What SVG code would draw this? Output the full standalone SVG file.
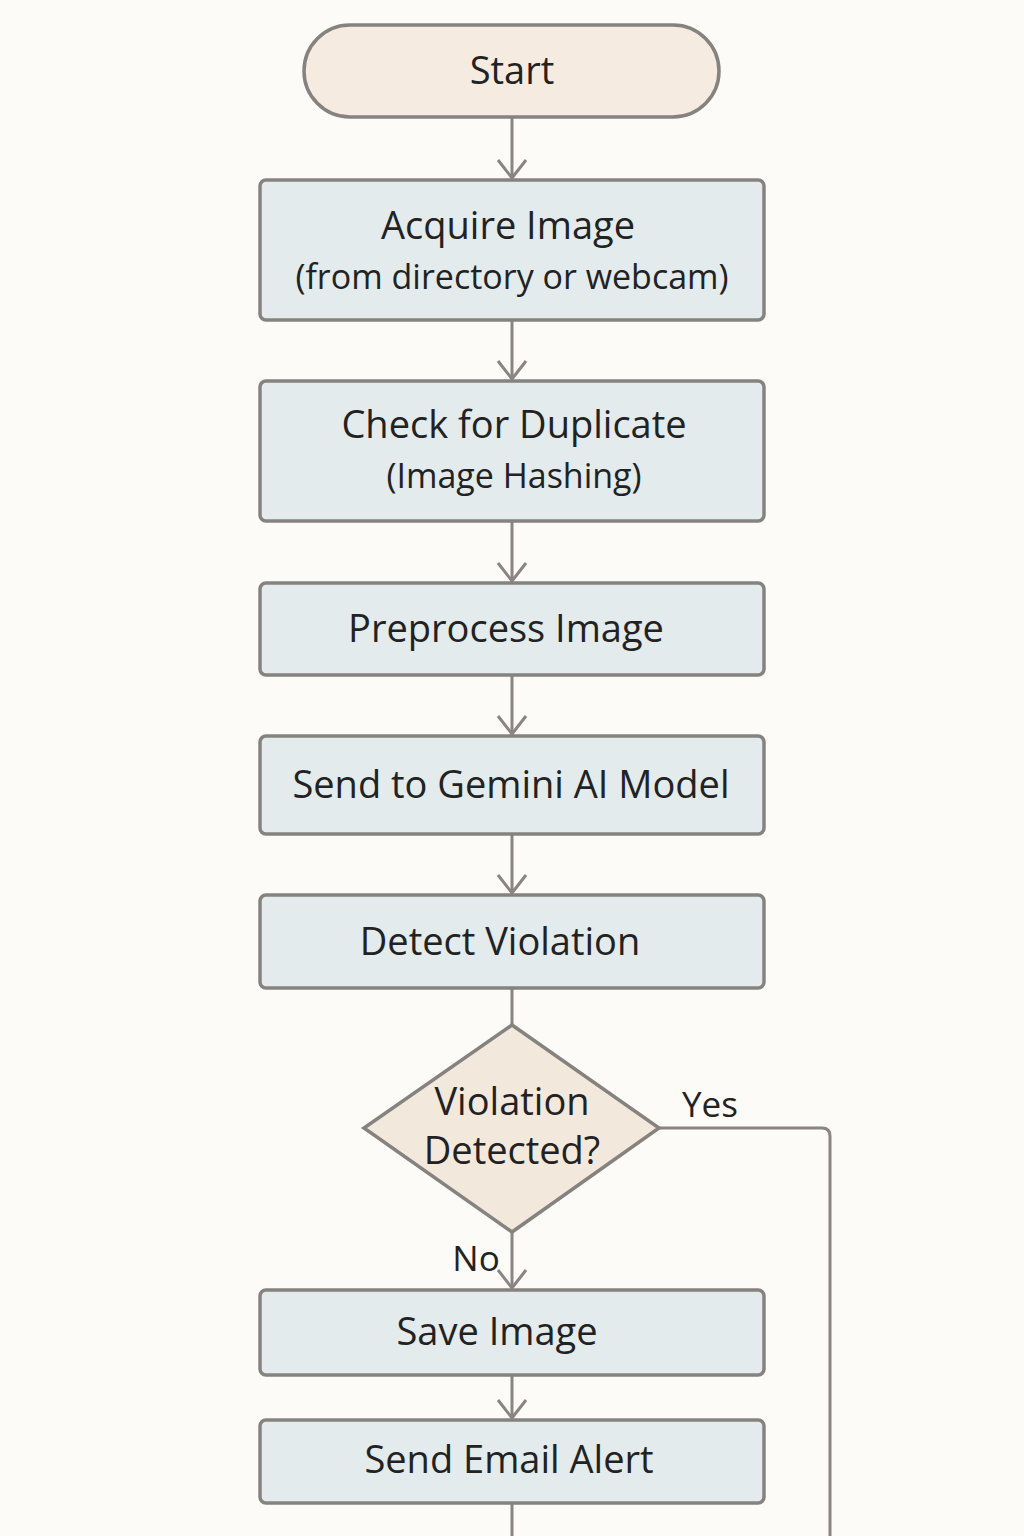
<svg xmlns="http://www.w3.org/2000/svg" width="1024" height="1536" viewBox="0 0 1024 1536">
<defs>
<style>
.bg{fill:#fcfbf7}
.box{fill:#e3ebed;stroke:#858280;stroke-width:3.5}
.term{fill:#f5ebe0;stroke:#858280;stroke-width:3.5}
.dec{fill:#f3e8dc;stroke:#858280;stroke-width:3.5}
.t{font-family:"Open Sans",Lato,"Liberation Sans",sans-serif;font-weight:500;fill:#222222;text-anchor:middle}
.big{font-size:38px}
.sm{font-size:34px}
.lbl{font-size:35px}
.conn{fill:none;stroke:#8a8582;stroke-width:3}
</style>
<marker id="arr" viewBox="0 0 22 32" refX="19" refY="16" markerWidth="22" markerHeight="32" markerUnits="userSpaceOnUse" orient="auto">
<path d="M1,2 L19,16 L1,30" fill="none" stroke="#8a8582" stroke-width="3"/>
</marker>
</defs>
<rect class="bg" x="0" y="0" width="1024" height="1536"/>
<g id="connectors">
<line class="conn" x1="512" y1="118" x2="512" y2="178" marker-end="url(#arr)"/>
<line class="conn" x1="512" y1="320" x2="512" y2="379" marker-end="url(#arr)"/>
<line class="conn" x1="512" y1="521" x2="512" y2="581" marker-end="url(#arr)"/>
<line class="conn" x1="512" y1="675" x2="512" y2="734" marker-end="url(#arr)"/>
<line class="conn" x1="512" y1="834" x2="512" y2="893" marker-end="url(#arr)"/>
<line class="conn" x1="512" y1="988" x2="512" y2="1025"/>
<line class="conn" x1="512" y1="1232" x2="512" y2="1288" marker-end="url(#arr)"/>
<path class="conn" d="M659,1128 L822,1128 Q830,1128 830,1136 L830,1536"/>
<line class="conn" x1="512" y1="1375" x2="512" y2="1418" marker-end="url(#arr)"/>
<line class="conn" x1="512" y1="1503" x2="512" y2="1536"/>
<text class="t lbl" x="710" y="1117">Yes</text>
<text class="t lbl" x="476" y="1271">No</text>
</g>
<g id="start">
<rect class="term" x="304" y="25" width="415" height="92" rx="46"/>
<text class="t big" x="512" y="84">Start</text>
</g>
<g id="acquire">
<rect class="box" x="260" y="180" width="504" height="140" rx="6"/>
<text class="t big" x="508" y="239">Acquire Image</text>
<text class="t sm" x="512" y="289">(from directory or webcam)</text>
</g>
<g id="duplicate">
<rect class="box" x="260" y="381" width="504" height="140" rx="6"/>
<text class="t big" x="514" y="438">Check for Duplicate</text>
<text class="t sm" x="514" y="488">(Image Hashing)</text>
</g>
<g id="preprocess">
<rect class="box" x="260" y="583" width="504" height="92" rx="6"/>
<text class="t big" x="506" y="642">Preprocess Image</text>
</g>
<g id="gemini">
<rect class="box" x="260" y="736" width="504" height="98" rx="6"/>
<text class="t big" x="511" y="798">Send to Gemini AI Model</text>
</g>
<g id="detect">
<rect class="box" x="260" y="895" width="504" height="93" rx="6"/>
<text class="t big" x="500" y="955">Detect Violation</text>
</g>
<g id="decision">
<polygon class="dec" points="512,1025 659,1128 512,1232 364,1128"/>
<text class="t big" x="512" y="1115">Violation</text>
<text class="t big" x="512" y="1164">Detected?</text>
</g>
<g id="save">
<rect class="box" x="260" y="1290" width="504" height="85" rx="6"/>
<text class="t big" x="497" y="1345">Save Image</text>
</g>
<g id="email">
<rect class="box" x="260" y="1420" width="504" height="83" rx="6"/>
<text class="t big" x="509" y="1473">Send Email Alert</text>
</g>
</svg>
